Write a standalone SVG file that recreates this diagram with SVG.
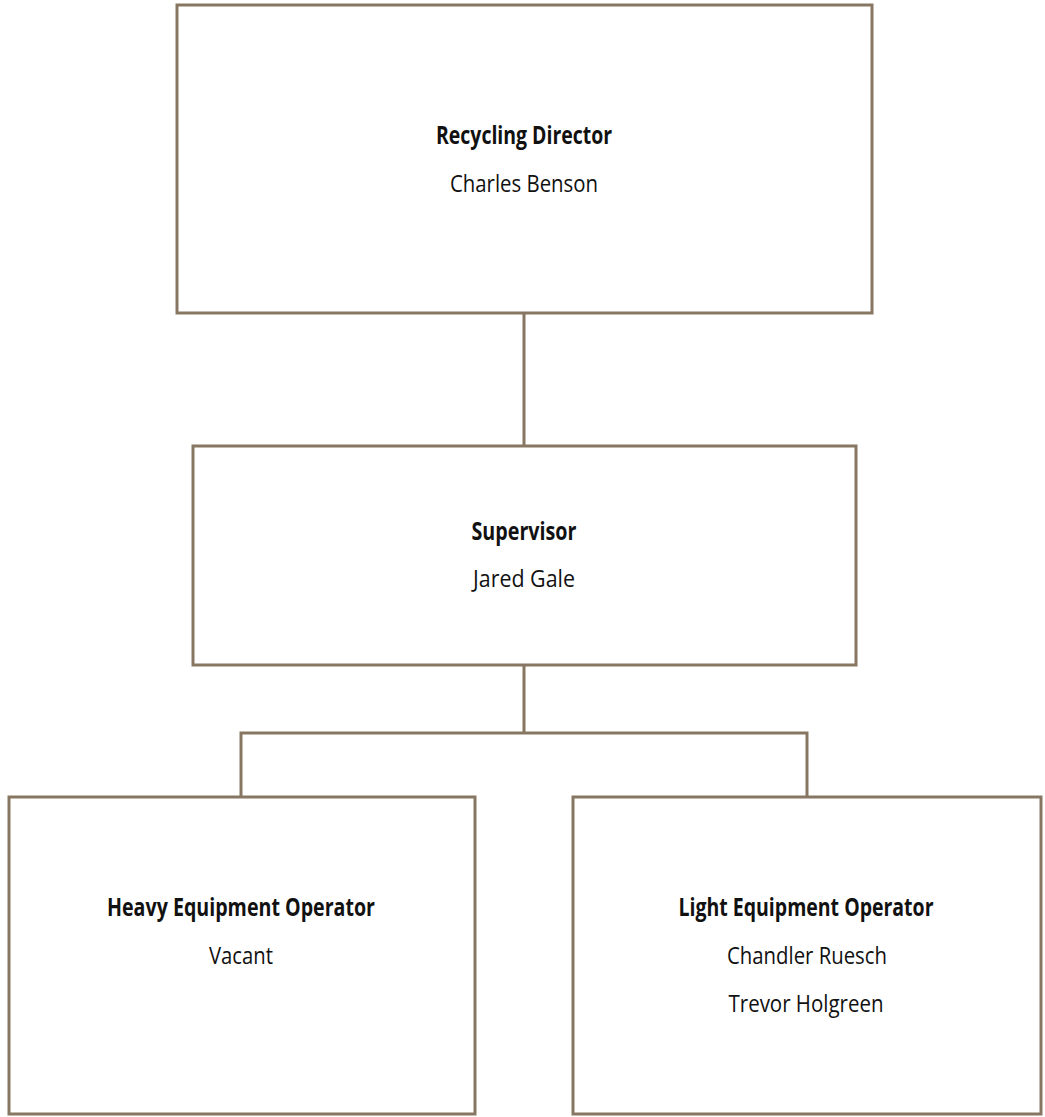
<svg xmlns="http://www.w3.org/2000/svg" width="1045" height="1117" viewBox="0 0 1045 1117">
  <style>
    .box { fill: #ffffff; stroke: #877762; stroke-width: 3; }
    .link { fill: none; stroke: #877762; stroke-width: 3; }
    .title { font-family: "Liberation Sans Narrow", "Open Sans", sans-serif; font-weight: bold; font-size: 24.5px; fill: #111111; text-anchor: middle; }
    .name { font-family: "Liberation Sans Narrow", "Open Sans", sans-serif; font-size: 24.5px; fill: #111111; text-anchor: middle; }
  </style>
  <rect width="1045" height="1117" fill="#ffffff"/>

  <!-- reporting lines -->
  <g id="connectors">
    <path class="link" d="M524 313 V446"/>
    <path class="link" d="M524 665 V733 M241 797 V733 H807 V797"/>
  </g>

  <g id="director">
    <rect class="box" x="177" y="5" width="695" height="308"/>
    <text class="title" x="524" y="144" textLength="176" lengthAdjust="spacingAndGlyphs">Recycling Director</text>
    <text class="name" x="524" y="192" textLength="148" lengthAdjust="spacingAndGlyphs">Charles Benson</text>
  </g>

  <g id="supervisor">
    <rect class="box" x="193" y="446" width="663" height="219"/>
    <text class="title" x="524" y="540" textLength="105" lengthAdjust="spacingAndGlyphs">Supervisor</text>
    <text class="name" x="524" y="587" textLength="102" lengthAdjust="spacingAndGlyphs">Jared Gale</text>
  </g>

  <g id="heavy-operator">
    <rect class="box" x="9" y="797" width="466" height="317"/>
    <text class="title" x="241" y="916" textLength="268" lengthAdjust="spacingAndGlyphs">Heavy Equipment Operator</text>
    <text class="name" x="241" y="964" textLength="64" lengthAdjust="spacingAndGlyphs">Vacant</text>
  </g>

  <g id="light-operator">
    <rect class="box" x="573" y="797" width="468" height="317"/>
    <text class="title" x="806" y="916" textLength="255" lengthAdjust="spacingAndGlyphs">Light Equipment Operator</text>
    <text class="name" x="807" y="964" textLength="160" lengthAdjust="spacingAndGlyphs">Chandler Ruesch</text>
    <text class="name" x="806" y="1012" textLength="155" lengthAdjust="spacingAndGlyphs">Trevor Holgreen</text>
  </g>
</svg>
